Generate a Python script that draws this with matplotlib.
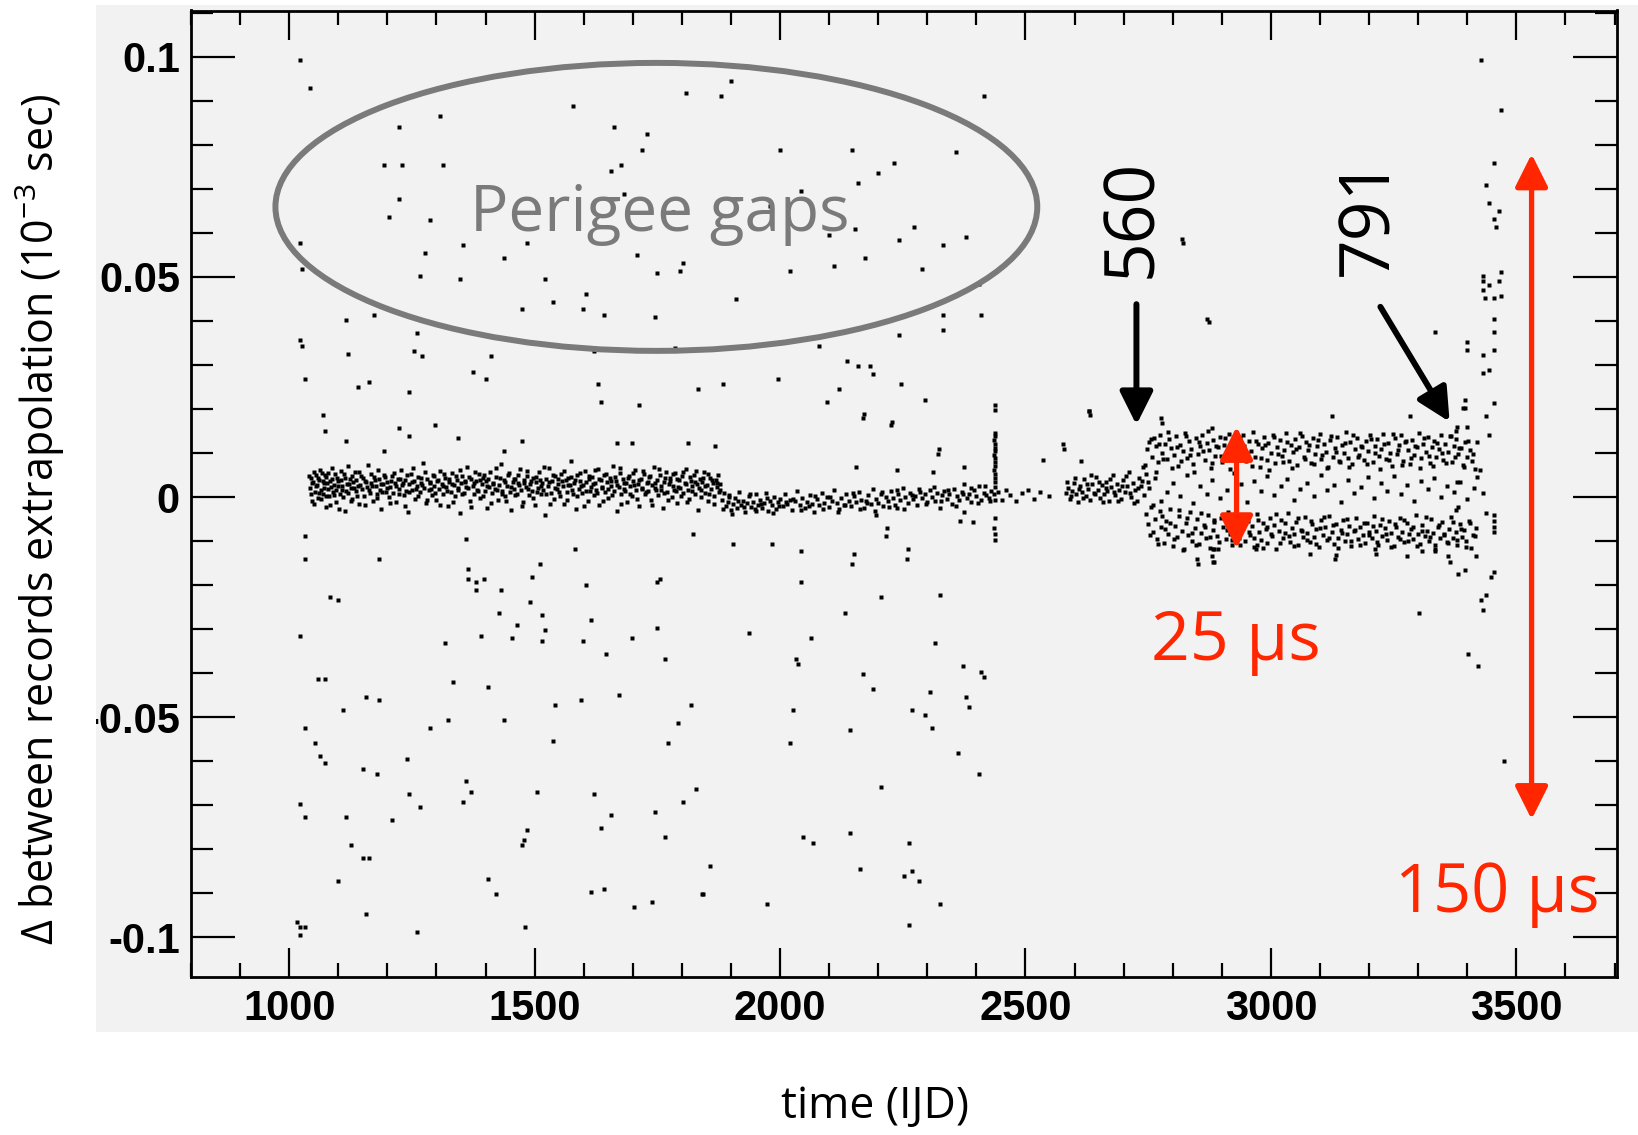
import numpy as np
import matplotlib
matplotlib.use('Agg')
import matplotlib.pyplot as plt
from matplotlib.patches import Ellipse, Rectangle, FancyArrowPatch
from matplotlib.ticker import MultipleLocator
from matplotlib.transforms import Bbox, TransformedBbox

plt.rcParams['mathtext.fontset'] = 'custom'
plt.rcParams['mathtext.rm'] = 'Open Sans'
plt.rcParams['mathtext.it'] = 'Open Sans:italic'
plt.rcParams['mathtext.bf'] = 'Open Sans:bold'

# ---- data: (time IJD, delta in 1e-3 s) ----
outliers_upper = [
    (1022, .0992), (1043, .0929), (1224, .0841), (1308, .0865), (1193, .0753), (1230, .0753),
    (1313, .0753), (1224, .0677), (1203, .0637), (1287, .0630), (1022, .0578), (1026, .0519),
    (1276, .0554), (1354, .0573), (1266, .0503), (1349, .0496), (1438, .0543), (1484, .0578),
    (1578, .0889), (1661, .0841), (1729, .0824), (1719, .0789), (1677, .0753), (1656, .0741),
    (1682, .0689), (1781, .0648), (1808, .0917), (1709, .0549), (1802, .0531), (1797, .0513),
    (1750, .0508), (1521, .0496), (1537, .0443), (1604, .0461), (1474, .0426), (1599, .0426),
    (1641, .0414), (1745, .0408), (1787, .0338), (1620, .0332), (1115, .0402), (1172, .0414),
    (1261, .0373), (1022, .0356), (1026, .0344), (1120, .0326), (1255, .0332), (1271, .0321),
    (1411, .0321), (1375, .0285), (1401, .0267), (1032, .0267), (1141, .0250), (1162, .0262),
    (1245, .0239), (1630, .0256), (1636, .0215), (1713, .0209), (1833, .0245), (1068, .0186),
    (1073, .0151), (1115, .0128), (1193, .0104), (1224, .0157), (1245, .0139), (1297, .0163),
    (1344, .0133), (1438, .0104), (1474, .0128), (1667, .0122), (1698, .0122), (1812, .0122),
    (1900, .0946), (1879, .0911), (2416, .0911), (2000, .0789), (2147, .0789), (2358, .0783),
    (2232, .0759), (2200, .0736), (2158, .0713), (2042, .0695), (1979, .0660), (2100, .0595),
    (2152, .0608), (2273, .0614), (2242, .0584), (2332, .0573), (2379, .0590), (2173, .0543),
    (2110, .0525), (2021, .0514), (2289, .0519), (2405, .0484), (1910, .0449), (2332, .0414),
    (2410, .0414), (2332, .0379), (2242, .0367), (2079, .0344), (2821, .0578), (2873, .0397),
    (2136, .0309), (2158, .0297), (2184, .0297), (2189, .0280), (1995, .0268), (1884, .0256),
    (2121, .0245), (2247, .0256), (2095, .0215), (2295, .0221), (2437, .0198), (2632, .0186),
    (2779, .0169), (2169, .0180), (2226, .0163), (1868, .0116), (2321, .0098), (2579, .0110),
    (3428, .0993), (3468, .0879), (3454, .0759), (3439, .0708), (3444, .0667), (3464, .0649),
    (3454, .0631), (3459, .0614), (2818, .0585), (3433, .0503), (3433, .0491), (3444, .0481),
    (3464, .0491), (3469, .0511), (3433, .0470), (3454, .0451), (3469, .0457), (3437, .0451),
    (3454, .0404), (3454, .0375), (3334, .0375), (2870, .0405), (3400, .0352), (3400, .0334),
    (3433, .0323), (3454, .0334), (3433, .0282), (3444, .0289), (3396, .0221), (3396, .0202),
    (3391, .0203), (3454, .0213), (3439, .0184), (3400, .0160), (3444, .0141), (3420, .0126),
    (3283, .0184), (3125, .0184), (2776, .0179), (2630, .0196), (2880, .0157),
    (2155, .0069), (2239, .0062), (2312, .0058), (2374, .0069), (2323, .0108), (2171, .0189),
    (2229, .0171), (2536, .0084), (2577, .0121), (2614, .0081), (2629, .0196),
]

outliers_lower = [
    (1032, -.0088), (1360, -.0095), (1583, -.0118), (1823, -.0085), (1032, -.0141), (1182, -.0141),
    (1365, -.0164), (1511, -.0153), (1365, -.0187), (1381, -.0193), (1396, -.0187), (1381, -.0211),
    (1432, -.0211), (1495, -.0181), (1604, -.0199), (1750, -.0193), (1755, -.0187), (1084, -.0228),
    (1100, -.0233), (1490, -.0239), (1427, -.0263), (1516, -.0269), (1615, -.0280), (1464, -.0291),
    (1521, -.0303), (1022, -.0315), (1391, -.0315), (1453, -.0321), (1516, -.0327), (1599, -.0327),
    (1698, -.0321), (1750, -.0298), (1318, -.0332), (1646, -.0356), (1766, -.0368), (1058, -.0414),
    (1073, -.0414), (1334, -.0419), (1406, -.0431), (1672, -.0449), (1156, -.0455), (1182, -.0460),
    (1110, -.0483), (1542, -.0472), (1594, -.0460), (1818, -.0472), (1032, -.0524), (1287, -.0524),
    (1323, -.0507), (1438, -.0507), (1792, -.0513), (1052, -.0559), (1537, -.0553), (1771, -.0559),
    (1063, -.0588), (1073, -.0605), (1240, -.0594), (1151, -.0617), (1178, -.0628), (1360, -.0646),
    (1371, -.0669), (1354, -.0693), (1245, -.0675), (1266, -.0704), (1505, -.0669), (1620, -.0675),
    (1828, -.0663), (1802, -.0693), (1022, -.0698), (1032, -.0727), (1115, -.0727), (1209, -.0733),
    (1656, -.0721), (1745, -.0715), (1484, -.0756), (1636, -.0751), (1479, -.0779), (1474, -.0791),
    (1766, -.0773), (1125, -.0791), (1151, -.0820), (1162, -.0820), (1100, -.0872), (1406, -.0867),
    (1422, -.0902), (1615, -.0896), (1641, -.0890), (1843, -.0902), (1703, -.0930), (1740, -.0919),
    (1156, -.0948), (1480, -.0977), (1261, -.0988), (1016, -.0965), (1022, -.0977), (1032, -.0977),
    (1022, -.0994),
    (1905, -.0106), (1984, -.0106), (2042, -.0123), (2216, -.0088), (2258, -.0141), (2147, -.0153),
    (2042, -.0193), (2205, -.0228), (2326, -.0222), (2132, -.0263), (1937, -.0309), (2063, -.0321),
    (2316, -.0332), (2032, -.0367), (2037, -.0379), (2373, -.0384), (2410, -.0397), (2416, -.0408),
    (2169, -.0402), (2189, -.0437), (2305, -.0443), (2379, -.0455), (2384, -.0477), (2026, -.0483),
    (2269, -.0483), (2295, -.0495), (2310, -.0524), (2142, -.0530), (2021, -.0559), (2363, -.0582),
    (2406, -.0628), (2205, -.0658), (2047, -.0773), (2068, -.0785), (2142, -.0762), (2263, -.0785),
    (1858, -.0837), (2163, -.0844), (2253, -.0861), (2269, -.0850), (2284, -.0872), (1842, -.0902),
    (1973, -.0924), (2326, -.0924), (2263, -.0971), (2851, -.0153), (2884, -.0117), (2884, -.0147),
    (2881, -.0118), (2881, -.0147), (2969, -.0118), (3079, -.0130), (3131, -.0141), (3214, -.0130),
    (3277, -.0135), (3308, -.0123), (3334, -.0123), (3360, -.0135), (3365, -.0147), (3417, -.0135),
    (3381, -.0175), (3449, -.0181), (3428, -.0233), (3433, -.0257), (3302, -.0263), (3402, -.0356),
    (3422, -.0384), (3475, -.0600), (2850, -.0141), (2880, -.0135), (2971, -.0108), (3132, -.0131),
    (3212, -.0118), (3396, -.0165), (3438, -.0222), (3454, -.0171),
    (2195, -.0040), (2217, -.0071), (2261, -.0118), (2150, -.0129), (2374, -.0034), (2366, -.0054),
    (2393, -.0056), (2239, -.0024),
]

band_early = [
    (1042, .0021), (1045, .0043), (1047, -.0008), (1049, .0035), (1052, .0012), (1054, .0050),
    (1057, .0027), (1059, -.0003), (1061, .0039), (1064, .0016), (1066, .0054), (1069, .0008),
    (1071, .0031), (1074, -.0022), (1076, .0046), (1079, .0019), (1081, .0002), (1084, .0036),
    (1087, .0067), (1089, .0011), (1092, .0028), (1095, -.0012), (1097, .0044), (1100, .0024),
    (1103, .0006), (1106, .0038), (1108, .0015), (1111, .0052), (1114, -.0031), (1117, .0029),
    (1120, .0009), (1123, .0041), (1126, .0020), (1129, -.0005), (1131, .0034), (1134, .0058),
    (1137, .0013), (1140, .0026), (1143, -.0015), (1146, .0047), (1149, .0018), (1152, .0003),
    (1155, .0037), (1158, .0022), (1161, .0072), (1164, .0010), (1167, .0032), (1170, -.0009),
    (1173, .0045), (1176, .0025), (1179, .0007), (1182, .0040), (1185, .0016), (1188, -.0026),
    (1191, .0030), (1194, .0051), (1197, .0012), (1200, .0035), (1203, .0001), (1206, .0023),
    (1209, .0048), (1212, .0009), (1215, .0033), (1218, -.0011), (1221, .0042), (1224, .0019),
    (1227, .0062), (1230, .0027), (1233, .0004), (1236, .0038), (1239, .0014), (1242, -.0034),
    (1245, .0030), (1248, .0053), (1251, .0017), (1254, .0036), (1257, -.0004), (1260, .0024),
    (1263, .0046), (1266, .0011), (1269, .0031), (1272, .0078), (1275, .0021), (1278, -.0013),
    (1281, .0040), (1284, .0015), (1287, .0033), (1290, .0005), (1293, .0049), (1296, .0026),
    (1299, -.0007), (1302, .0037), (1305, .0018), (1308, .0060), (1311, .0029), (1314, .0008),
    (1317, .0043), (1320, .0022), (1323, -.0020), (1326, .0035), (1329, .0012), (1332, .0055),
    (1335, .0028), (1338, .0002), (1341, .0039), (1344, .0017), (1347, -.0036), (1350, .0032),
    (1353, .0047), (1356, .0010), (1359, .0034), (1362, .0069), (1365, .0020), (1368, -.0010),
    (1371, .0041), (1374, .0025), (1377, .0006), (1380, .0037), (1383, .0016), (1386, .0052),
    (1389, -.0002), (1392, .0030), (1395, .0044), (1398, .0013), (1401, .0036), (1404, -.0024),
    (1407, .0023), (1410, .0057), (1413, .0009), (1416, .0033), (1419, .0018), (1422, .0045),
    (1425, -.0006), (1428, .0028), (1431, .0074), (1434, .0014), (1437, .0039), (1440, .0003),
    (1443, .0026), (1446, .0050), (1449, .0011), (1452, -.0029), (1455, .0034), (1458, .0019),
    (1461, .0042), (1464, .0007), (1467, .0031), (1470, .0063), (1473, .0015), (1476, -.0012),
    (1479, .0038), (1482, .0022), (1485, .0048), (1488, .0004), (1491, .0029), (1494, .0013),
    (1497, .0044), (1500, -.0019), (1503, .0035), (1506, .0021), (1509, .0056), (1512, .0008),
    (1515, .0032), (1518, .0017), (1521, -.0041), (1524, .0040), (1527, .0025), (1530, .0066),
    (1533, .0010), (1536, .0036), (1539, -.0005), (1542, .0047), (1545, .0019), (1548, .0030),
    (1551, .0002), (1554, .0053), (1557, .0024), (1560, -.0015), (1563, .0039), (1566, .0012),
    (1569, .0043), (1572, .0027), (1575, .0081), (1578, .0006), (1581, .0033), (1584, -.0027),
    (1587, .0049), (1590, .0018), (1593, .0037), (1596, .0009), (1599, .0028), (1602, .0059),
    (1605, .0014), (1608, -.0008), (1611, .0041), (1614, .0023), (1617, .0046), (1620, .0005),
    (1623, .0032), (1626, .0016), (1629, .0064), (1632, -.0018), (1635, .0038), (1638, .0021),
    (1641, .0050), (1644, .0011), (1647, .0034), (1650, -.0003), (1653, .0044), (1656, .0026),
    (1659, .0071), (1662, .0013), (1665, .0037), (1668, -.0032), (1671, .0022), (1674, .0054),
    (1677, .0008), (1680, .0040), (1683, .0019), (1686, .0031), (1689, -.0011), (1692, .0047),
    (1695, .0024), (1698, .0003), (1701, .0036), (1704, .0061), (1707, .0015), (1710, .0029),
    (1713, -.0021), (1716, .0042), (1719, .0018), (1722, .0052), (1725, .0007), (1728, .0033),
    (1731, .0013), (1734, .0045), (1737, -.0007), (1740, .0027), (1743, .0068), (1746, .0020),
    (1749, .0038), (1752, .0004), (1755, .0049), (1758, .0016), (1761, -.0025), (1764, .0035),
    (1767, .0058), (1770, .0011), (1773, .0030), (1776, .0043), (1779, .0001), (1782, .0025),
    (1785, .0055), (1788, .0014), (1791, -.0014), (1794, .0039), (1797, .0021), (1800, .0047),
    (1803, .0009), (1806, .0032), (1809, .0063), (1812, .0017), (1815, -.0004), (1818, .0036),
    (1821, .0024), (1824, .0051), (1827, .0006), (1830, .0029), (1833, -.0030), (1836, .0041),
    (1839, .0015), (1842, .0034), (1845, .0057), (1848, .0010), (1851, .0027), (1854, -.0009),
    (1857, .0044), (1860, .0019), (1863, .0031), (1866, .0002), (1869, .0038), (1872, .0023),
    (1875, .0012), (1878, .0030),
]

band_early_fill = [
    (1041, .0047), (1044, .0008), (1046, .0031), (1050, .0058), (1051, -.0015), (1055, .0025),
    (1058, .0044), (1060, .0010), (1063, .0062), (1065, -.0004), (1068, .0037), (1070, .0020),
    (1073, .0049), (1075, .0003), (1078, .0033), (1080, .0055), (1083, -.0018), (1086, .0023),
    (1088, .0041), (1091, .0005), (1094, .0052), (1096, .0017), (1099, .0036), (1102, -.0027),
    (1105, .0060), (1107, .0026), (1110, .0001), (1113, .0044), (1116, .0014), (1119, .0070),
    (1122, .0030), (1125, -.0009), (1128, .0048), (1133, .0021), (1136, .0039), (1139, .0002),
    (1142, .0057), (1145, .0027), (1151, .0043), (1154, -.0019), (1157, .0034), (1162, .0015),
    (1166, .0053), (1169, .0024), (1175, .0038), (1178, -.0002), (1181, .0061), (1187, .0029),
    (1190, .0011), (1196, .0046), (1199, .0020), (1205, -.0013), (1208, .0037), (1214, .0055),
    (1217, .0024), (1223, .0008), (1226, .0042), (1232, .0031), (1235, -.0021), (1241, .0050),
    (1244, .0012), (1250, .0034), (1253, .0066), (1259, .0019), (1262, .0002), (1268, .0044),
    (1271, .0027), (1277, .0057), (1280, -.0006), (1286, .0035), (1289, .0018), (1295, .0047),
    (1298, .0009), (1304, .0039), (1307, -.0017), (1313, .0024), (1316, .0053), (1322, .0013),
    (1325, .0040), (1331, .0029), (1334, -.0011), (1340, .0048), (1343, .0020), (1349, .0061),
    (1352, .0007), (1358, .0036), (1361, .0023), (1367, .0045), (1370, -.0023), (1376, .0032),
    (1379, .0056), (1385, .0014), (1388, .0038), (1394, .0003), (1397, .0050), (1403, .0026),
    (1406, .0042), (1412, -.0014), (1415, .0030), (1421, .0065), (1424, .0016), (1430, .0043),
    (1433, .0008), (1439, .0035), (1442, -.0008), (1448, .0054), (1451, .0022), (1457, .0040),
    (1460, .0005), (1466, .0049), (1469, .0027), (1475, -.0021), (1478, .0033), (1484, .0060),
    (1487, .0018), (1493, .0037), (1496, -.0003), (1502, .0046), (1505, .0012), (1511, .0039),
    (1514, .0025), (1520, .0068), (1523, .0007), (1529, .0034), (1532, -.0016), (1538, .0051),
    (1541, .0021), (1547, .0042), (1550, .0011), (1556, .0036), (1559, .0059), (1565, -.0006),
    (1568, .0028), (1574, .0045), (1577, .0016), (1583, .0039), (1586, .0003), (1592, .0055),
    (1595, .0025), (1601, -.0020), (1604, .0035), (1610, .0048), (1613, .0013), (1619, .0030),
    (1622, .0062), (1628, .0009), (1631, .0041), (1637, .0023), (1640, -.0010), (1646, .0052),
    (1649, .0019), (1655, .0037), (1658, .0004), (1664, .0046), (1667, .0027), (1673, .0066),
    (1676, -.0015), (1682, .0033), (1685, .0014), (1691, .0043), (1694, .0006), (1700, .0054),
    (1703, .0028), (1709, -.0004), (1712, .0039), (1718, .0021), (1721, .0059), (1727, .0012),
    (1730, .0035), (1736, .0048), (1739, -.0018), (1745, .0031), (1748, .0017), (1754, .0063),
    (1757, .0025), (1763, .0009), (1766, .0044), (1772, -.0007), (1775, .0036), (1781, .0052),
    (1784, .0015), (1790, .0040), (1793, .0022), (1799, .0003), (1802, .0057), (1808, .0029),
    (1811, -.0012), (1817, .0046), (1820, .0013), (1826, .0034), (1829, .0060), (1835, .0020),
    (1838, -.0001), (1844, .0043), (1847, .0026), (1853, .0053), (1856, .0008), (1862, .0038),
    (1865, -.0016), (1871, .0031), (1874, .0049), (1877, .0017),
]

band_mid = [
    (1882, -.0006), (1886, .0009), (1890, -.0021), (1893, -.0012), (1897, .0004), (1901, -.0030),
    (1905, -.0016), (1908, -.0003), (1912, -.0025), (1916, .0012), (1920, -.0018), (1924, -.0008),
    (1928, -.0035), (1932, -.0014), (1936, .0002), (1940, -.0022), (1944, -.0011), (1948, -.0028),
    (1952, .0006), (1956, -.0017), (1960, -.0006), (1964, -.0024), (1968, -.0013), (1972, .0010),
    (1976, -.0032), (1980, -.0009), (1984, -.0019), (1988, .0001), (1992, -.0026), (1996, -.0012),
    (2000, -.0004), (2005, -.0021), (2010, .0007), (2015, -.0015), (2020, -.0007), (2025, -.0029),
    (2030, -.0010), (2035, .0013), (2040, -.0018), (2045, -.0002), (2050, -.0024), (2055, -.0011),
    (2060, .0004), (2065, -.0016), (2070, -.0033), (2075, -.0005), (2080, -.0019), (2085, .0009),
    (2090, -.0013), (2095, -.0001), (2100, -.0022), (2105, -.0008), (2110, .0015), (2115, -.0014),
    (2120, -.0027), (2125, -.0003), (2130, -.0017), (2135, .0006), (2140, -.0010), (2145, -.0021),
    (2150, .0002), (2155, -.0012), (2160, .0011), (2165, -.0006), (2170, -.0025), (2175, -.0009),
    (2180, .0004), (2185, -.0016), (2190, .0018), (2195, -.0004), (2200, -.0013), (2205, .0008),
    (2210, -.0020), (2215, .0001), (2220, -.0009), (2225, .0014), (2230, -.0003), (2235, -.0017),
    (2240, .0007), (2245, -.0007), (2250, .0020), (2255, -.0001), (2260, -.0014), (2265, .0010),
    (2270, -.0005), (2275, .0003), (2280, -.0019), (2285, .0012), (2290, -.0002), (2295, .0006),
    (2300, -.0011), (2305, .0016), (2310, .0001), (2315, -.0008), (2320, .0009), (2325, -.0024),
    (2330, .0004), (2335, .0013), (2340, -.0004), (2345, .0007), (2350, -.0015), (2355, .0019),
    (2360, .0002), (2365, -.0006), (2370, .0011), (2375, .0030), (2380, -.0002), (2385, .0008),
    (2390, -.0012), (2395, .0015), (2400, .0003), (2405, .0024), (2410, -.0007), (2415, .0010),
    (2420, .0005), (2425, -.0003), (2430, .0013),
    (1884, -.0027), (1895, -.0001), (1903, -.0038), (1914, -.0009), (1926, -.0022), (1938, .0006),
    (1950, -.0031), (1962, -.0015), (1974, -.0002), (1986, -.0036), (1998, -.0020), (2012, -.0011),
    (2027, -.0004), (2042, -.0030), (2058, -.0021), (2072, .0003), (2087, -.0026), (2102, .0001),
    (2118, -.0035), (2133, -.0019), (2148, .0010), (2163, -.0028), (2178, -.0013), (2193, -.0031),
    (2208, .0012), (2222, -.0022), (2238, .0016), (2252, -.0026), (2268, .0004), (2283, .0019),
    (2298, -.0016), (2313, .0022), (2328, -.0009), (2343, .0017), (2358, -.0020), (2373, .0006),
    (2388, .0021), (2403, -.0013), (2418, .0026), (2428, -.0010),
]

band_spike = [
    (2437, .0209), (2437, .0146), (2437, .0138), (2436, .0129), (2437, .0120), (2438, .0112),
    (2437, .0104), (2436, .0096), (2437, .0088), (2438, .0079), (2437, .0070), (2436, .0062),
    (2437, .0052), (2437, .0043), (2438, .0035), (2437, .0022), (2436, .0008), (2437, -.0006),
    (2437, -.0048), (2436, -.0070), (2437, -.0083), (2437, -.0097),
]

band_gap = [
    (2445, .0011), (2452, -.0006), (2460, .0015), (2468, .0004), (2480, -.0009), (2492, .0009),
    (2505, .0016), (2518, -.0004), (2530, .0012), (2548, .0002), (2582, .0009), (2587, .0021),
    (2591, -.0004), (2595, .0014), (2599, .0032), (2603, .0006), (2607, -.0011), (2611, .0025),
    (2615, .0012), (2619, .0040), (2623, .0002), (2627, .0018), (2631, -.0007), (2635, .0030),
    (2639, .0010), (2643, .0046), (2647, .0016), (2651, -.0002), (2655, .0027), (2659, .0008),
    (2663, .0035), (2667, .0013), (2671, -.0010), (2675, .0022), (2679, .0050), (2683, .0005),
    (2687, .0029), (2691, .0015), (2695, -.0005), (2699, .0038), (2703, .0011), (2707, .0024),
    (2711, .0058), (2715, .0001), (2719, .0033), (2723, .0017), (2727, -.0008), (2731, .0043),
    (2735, .0026), (2739, .0068), (2742, .0004), (2745, .0052),
    (2585, .0034), (2593, .0002), (2601, .0044), (2609, .0018), (2617, -.0003), (2625, .0029),
    (2633, .0051), (2641, .0007), (2649, .0035), (2657, -.0012), (2665, .0020), (2673, .0041),
    (2681, .0012), (2689, -.0009), (2697, .0025), (2705, .0047), (2713, .0009), (2721, -.0014),
    (2729, .0021), (2737, .0036),
]

band_late_upper = [
    (2748, .0108), (2752, .0126), (2757, .0091), (2761, .0135), (2766, .0117), (2770, .0079),
    (2775, .0142), (2779, .0100), (2784, .0121), (2788, .0087), (2793, .0131), (2797, .0112),
    (2802, .0095), (2806, .0138), (2811, .0071), (2815, .0119), (2820, .0104), (2824, .0146),
    (2829, .0089), (2833, .0127), (2838, .0110), (2842, .0076), (2847, .0133), (2851, .0098),
    (2856, .0115), (2860, .0141), (2865, .0084), (2869, .0122), (2874, .0106), (2878, .0066),
    (2883, .0129), (2887, .0093), (2892, .0113), (2896, .0137), (2901, .0080), (2905, .0118),
    (2910, .0101), (2914, .0144), (2919, .0088), (2923, .0125), (2928, .0073), (2932, .0109),
    (2937, .0134), (2941, .0096), (2946, .0116), (2950, .0082), (2955, .0128), (2959, .0105),
    (2964, .0148), (2968, .0091), (2973, .0120), (2977, .0069), (2982, .0111), (2986, .0136),
    (2991, .0085), (2995, .0123), (3000, .0099), (3004, .0140), (3009, .0077), (3013, .0114),
    (3018, .0130), (3022, .0094), (3027, .0107), (3031, .0145), (3036, .0083), (3040, .0119),
    (3045, .0102), (3049, .0132), (3054, .0072), (3058, .0113), (3063, .0139), (3067, .0090),
    (3072, .0124), (3076, .0106), (3081, .0078), (3085, .0134), (3090, .0097), (3094, .0117),
    (3099, .0143), (3103, .0086), (3108, .0121), (3112, .0103), (3117, .0068), (3121, .0129),
    (3126, .0092), (3130, .0112), (3135, .0137), (3139, .0081), (3144, .0118), (3148, .0100),
    (3153, .0147), (3157, .0089), (3162, .0126), (3166, .0074), (3171, .0108), (3175, .0133),
    (3180, .0095), (3184, .0115), (3189, .0084), (3193, .0127), (3198, .0104), (3202, .0141),
    (3207, .0079), (3211, .0116), (3216, .0131), (3220, .0093), (3225, .0110), (3229, .0144),
    (3234, .0087), (3238, .0122), (3243, .0101), (3247, .0070), (3252, .0135), (3256, .0098),
    (3261, .0118), (3265, .0140), (3270, .0083), (3274, .0124), (3279, .0107), (3283, .0075),
    (3288, .0130), (3292, .0096), (3297, .0114), (3301, .0146), (3306, .0088), (3310, .0120),
    (3315, .0102), (3319, .0136), (3324, .0078), (3328, .0113), (3333, .0128), (3337, .0092),
    (3342, .0109), (3346, .0142), (3351, .0085), (3355, .0121), (3360, .0103), (3364, .0139),
    (3369, .0080), (3373, .0117), (3378, .0132), (3382, .0097), (3387, .0111), (3391, .0073),
    (3396, .0125), (3400, .0090), (3405, .0106), (3410, .0082), (3415, .0064),
    (3378, .0150), (3379, .0160), (3380, .0035),
]

band_late_lower = [
    (2746, -.0038), (2750, -.0061), (2755, -.0022), (2759, -.0079), (2764, -.0049), (2768, -.0095),
    (2773, -.0031), (2777, -.0068), (2782, -.0104), (2786, -.0054), (2791, -.0083), (2795, -.0027),
    (2800, -.0112), (2804, -.0065), (2809, -.0090), (2813, -.0044), (2818, -.0076), (2822, -.0118),
    (2827, -.0058), (2831, -.0087), (2836, -.0035), (2840, -.0099), (2845, -.0071), (2849, -.0050),
    (2854, -.0107), (2858, -.0081), (2863, -.0063), (2867, -.0093), (2872, -.0040), (2876, -.0115),
    (2881, -.0074), (2885, -.0056), (2890, -.0088), (2894, -.0102), (2899, -.0047), (2903, -.0069),
    (2908, -.0096), (2912, -.0033), (2917, -.0084), (2921, -.0110), (2926, -.0060), (2930, -.0078),
    (2935, -.0092), (2939, -.0045), (2944, -.0071), (2948, -.0100), (2953, -.0055), (2957, -.0086),
    (2962, -.0066), (2966, -.0113), (2971, -.0039), (2975, -.0080), (2980, -.0097), (2984, -.0059),
    (2989, -.0073), (2993, -.0105), (2998, -.0048), (3002, -.0089), (3007, -.0064), (3011, -.0117),
    (3016, -.0076), (3020, -.0052), (3025, -.0094), (3029, -.0082), (3034, -.0037), (3038, -.0101),
    (3043, -.0070), (3047, -.0085), (3052, -.0057), (3056, -.0109), (3061, -.0075), (3065, -.0091),
    (3070, -.0046), (3074, -.0081), (3079, -.0103), (3083, -.0062), (3088, -.0090), (3092, -.0072),
    (3097, -.0114), (3101, -.0051), (3106, -.0087), (3110, -.0068), (3115, -.0098), (3119, -.0042),
    (3124, -.0079), (3128, -.0106), (3133, -.0061), (3137, -.0093), (3142, -.0074), (3146, -.0053),
    (3151, -.0100), (3155, -.0083), (3160, -.0066), (3164, -.0111), (3169, -.0077), (3173, -.0048),
    (3178, -.0095), (3182, -.0069), (3187, -.0086), (3191, -.0104), (3196, -.0058), (3200, -.0080),
    (3205, -.0092), (3209, -.0043), (3214, -.0076), (3218, -.0108), (3223, -.0063), (3227, -.0088),
    (3232, -.0071), (3236, -.0097), (3241, -.0054), (3245, -.0082), (3250, -.0112), (3254, -.0067),
    (3259, -.0090), (3263, -.0047), (3268, -.0079), (3272, -.0101), (3277, -.0060), (3281, -.0085),
    (3286, -.0073), (3290, -.0096), (3295, -.0041), (3299, -.0083), (3304, -.0107), (3308, -.0064),
    (3313, -.0089), (3317, -.0076), (3322, -.0099), (3326, -.0050), (3331, -.0081), (3335, -.0110),
    (3340, -.0068), (3344, -.0093), (3349, -.0057), (3353, -.0087), (3358, -.0102), (3362, -.0072),
    (3367, -.0045), (3371, -.0094), (3376, -.0080), (3380, -.0108), (3385, -.0062), (3389, -.0091),
    (3394, -.0075), (3398, -.0099), (3403, -.0055), (3408, -.0116), (3412, -.0086), (3417, -.0070),
    (3454, -.0040), (3454, -.0055), (3454, -.0068), (3455, -.0079), (3381, -.0022), (3378, -.0030),
]

band_late_middle = [
    (2752, .0021), (2763, .0043), (2776, -.0008), (2789, .0012), (2801, .0032), (2815, .0002),
    (2828, .0049), (2842, -.0014), (2855, .0026), (2869, .0008), (2880, .0038), (2897, -.0003),
    (2910, .0017), (2925, .0054), (2939, .0029), (2952, -.0011), (2966, .0036), (2979, .0014),
    (2993, .0047), (3006, .0005), (3020, .0024), (3033, .0041), (3047, -.0007), (3060, .0019),
    (3074, .0033), (3088, .0003), (3101, .0051), (3115, .0016), (3128, .0028), (3142, -.0012),
    (3156, .0039), (3169, .0009), (3183, .0022), (3197, .0045), (3210, -.0002), (3224, .0031),
    (3237, .0013), (3251, .0048), (3265, .0006), (3278, .0027), (3292, -.0009), (3305, .0037),
    (3319, .0018), (3332, .0043), (3346, .0001), (3359, .0025), (3373, .0011), (3386, .0034),
    (3400, -.0005), (3413, .0020), (3425, .0062), (3432, .0010), (3438, -.0036),
]

band_late_fill = [
    (2744, .0072), (2749, .0035), (2753, -.0087), (2756, .0132), (2760, -.0019), (2765, .0056),
    (2769, -.0106), (2772, .0121), (2778, -.0042), (2781, .0087), (2785, -.0073), (2790, .0148),
    (2794, -.0058), (2799, .0066), (2803, -.0096), (2808, .0113), (2812, -.0029), (2817, .0081),
    (2821, -.0121), (2826, .0139), (2830, -.0047), (2835, .0096), (2839, -.0082), (2844, .0058),
    (2848, -.0110), (2853, .0125), (2857, -.0036), (2862, .0104), (2866, -.0069), (2871, .0150),
    (2875, -.0091), (2880, .0077), (2884, -.0052), (2889, .0117), (2893, -.0118), (2898, .0093),
    (2902, -.0040), (2907, .0135), (2911, -.0075), (2916, .0063), (2920, -.0098), (2925, .0111),
    (2929, -.0062), (2934, .0084), (2938, -.0108), (2943, .0142), (2947, -.0044), (2952, .0100),
    (2956, -.0079), (2961, .0070), (2965, -.0094), (2970, .0128), (2974, -.0052), (2979, .0089),
    (2983, -.0115), (2988, .0119), (2992, -.0067), (2997, .0061), (3001, -.0085), (3006, .0137),
    (3010, -.0039), (3015, .0097), (3019, -.0104), (3024, .0080), (3028, -.0060), (3033, .0124),
    (3037, -.0089), (3042, .0067), (3046, -.0112), (3051, .0109), (3055, -.0048), (3060, .0145),
    (3064, -.0078), (3069, .0086), (3073, -.0097), (3078, .0118), (3082, -.0055), (3087, .0074),
    (3091, -.0107), (3096, .0130), (3100, -.0070), (3105, .0095), (3109, -.0045), (3114, .0065),
    (3118, -.0092), (3123, .0138), (3127, -.0063), (3132, .0103), (3136, -.0116), (3141, .0079),
    (3145, -.0081), (3150, .0122), (3154, -.0050), (3159, .0069), (3163, -.0099), (3168, .0140),
    (3172, -.0074), (3177, .0091), (3181, -.0110), (3186, .0113), (3190, -.0058), (3195, .0076),
    (3199, -.0087), (3204, .0131), (3208, -.0066), (3213, .0099), (3217, -.0103), (3222, .0064),
    (3226, -.0049), (3231, .0120), (3235, -.0083), (3240, .0085), (3244, -.0114), (3249, .0144),
    (3253, -.0061), (3258, .0106), (3262, -.0095), (3267, .0072), (3271, -.0053), (3276, .0127),
    (3280, -.0100), (3285, .0088), (3289, -.0068), (3294, .0116), (3298, -.0112), (3303, .0066),
    (3307, -.0078), (3312, .0135), (3316, -.0046), (3321, .0094), (3325, -.0091), (3330, .0071),
    (3334, -.0119), (3339, .0123), (3343, -.0064), (3348, .0101), (3352, -.0085), (3357, .0078),
    (3361, -.0105), (3366, .0139), (3370, -.0056), (3375, .0090), (3379, -.0097), (3384, .0112),
    (3388, -.0073), (3393, .0068), (3397, -.0113), (3402, .0127), (3406, -.0060), (3411, .0098),
    (3416, -.0089), (3419, .0045),
]

point_groups = [outliers_upper, outliers_lower, band_early, band_early_fill, band_mid, band_spike,
                band_gap, band_late_upper, band_late_lower, band_late_middle, band_late_fill]

xtick_vals = [1000, 1500, 2000, 2500, 3000, 3500]
ytick_vals = [-0.1, -0.05, 0, 0.05, 0.1]
ytick_labels = ['-0.1', '-0.05', '0', '0.05', '0.1']

RED = '#ff2600'
ANNOT_FONT = ['Open Sans', 'DejaVu Sans']

W, H = 1638, 1135
fig = plt.figure(figsize=(W / 100, H / 100), dpi=100)

# grey canvas behind the plot (as in the ROOT screenshot)
panel_box = [96 / W, 1 - 1032 / H, (W - 96) / W, (1032 - 5) / H]
fig.add_artist(Rectangle((panel_box[0], panel_box[1]), panel_box[2], panel_box[3],
                         transform=fig.transFigure, facecolor='#f2f2f2', edgecolor='none', zorder=-10))

ax = fig.add_axes([191 / W, 1 - 977 / H, (1617 - 191) / W, (977 - 10.5) / H])
ax.set_facecolor('#f2f2f2')

for grp in point_groups:
    arr = np.array(grp)
    ax.plot(arr[:, 0], arr[:, 1], 's', ms=2.3, mfc='black', mec='none', zorder=2)

ax.set_xlim(800, 3705)
ax.set_ylim(-0.109, 0.1105)

ax.set_xticks(xtick_vals)
ax.set_xticklabels([str(v) for v in xtick_vals], fontsize=30, fontweight='bold', family='Liberation Sans')
ax.set_yticks(ytick_vals)
ax.set_yticklabels(ytick_labels, fontsize=30, fontweight='bold', family='Liberation Sans')
ax.xaxis.set_minor_locator(MultipleLocator(100))
ax.yaxis.set_minor_locator(MultipleLocator(0.01))

ax.tick_params(which='both', direction='in', top=True, right=True, width=1.6, color='black')
ax.tick_params(axis='x', which='major', length=21, pad=9)
ax.tick_params(axis='x', which='minor', length=10)
ax.tick_params(axis='y', which='major', length=32, pad=8)
ax.tick_params(axis='y', which='minor', length=16)
for sp in ax.spines.values():
    sp.set_linewidth(2)

# tick labels are cut by the edge of the grey canvas
clip = TransformedBbox(Bbox.from_bounds(*panel_box), fig.transFigure)
for lbl in ax.get_yticklabels():
    lbl.set_clip_box(clip)
    lbl.set_clip_on(True)

# annotations
ax.add_patch(Ellipse((1748, 0.0659), 1552, 0.0654, fill=False, edgecolor='#7a7a7a', lw=4.3, zorder=3))
ax.text(1755, 0.0604, 'Perigee gaps', ha='center', va='baseline', fontsize=46,
        color='#7a7a7a', family=ANNOT_FONT, zorder=4)

ax.text(2719, 0.0633, '560', rotation=90, ha='center', va='center', fontsize=50, family=ANNOT_FONT)
ax.text(3200, 0.0637, '791', rotation=90, ha='center', va='center', fontsize=50, family=ANNOT_FONT)

ax.add_patch(FancyArrowPatch((2726, 0.0438), (2726, 0.0164), arrowstyle='-|>,head_length=20,head_width=10',
                             mutation_scale=1, lw=4.3, color='black', shrinkA=0, shrinkB=0, zorder=5))
ax.add_patch(FancyArrowPatch((3223, 0.0432), (3364, 0.0171), arrowstyle='-|>,head_length=20,head_width=10',
                             mutation_scale=1, lw=4.3, color='black', shrinkA=0, shrinkB=0, zorder=5))

ax.add_patch(FancyArrowPatch((2930, 0.0160), (2930, -0.0117), arrowstyle='<|-|>,head_length=20,head_width=10',
                             mutation_scale=1, lw=3.8, color=RED, shrinkA=0, shrinkB=0, zorder=5))
ax.add_patch(FancyArrowPatch((3531, 0.0779), (3531, -0.0732), arrowstyle='<|-|>,head_length=20,head_width=10',
                             mutation_scale=1, lw=3.8, color=RED, shrinkA=0, shrinkB=0, zorder=5))

ax.text(2928, -0.0369, '25 μs', ha='center', va='baseline', fontsize=49, color=RED, family=ANNOT_FONT)
ax.text(3461, -0.0943, '150 μs', ha='center', va='baseline', fontsize=48, color=RED, family=ANNOT_FONT)

fig.text(875 / W, 1 - 1107 / H, 'time (IJD)', ha='center', va='center', fontsize=32, family=ANNOT_FONT)
fig.text(40 / W, 1 - 519 / H, 'Δ between records extrapolation (10$^{-3}$ sec)', rotation=90,
         ha='center', va='center', fontsize=31, family=ANNOT_FONT)

fig.savefig('out.png', dpi=100, facecolor='white')
